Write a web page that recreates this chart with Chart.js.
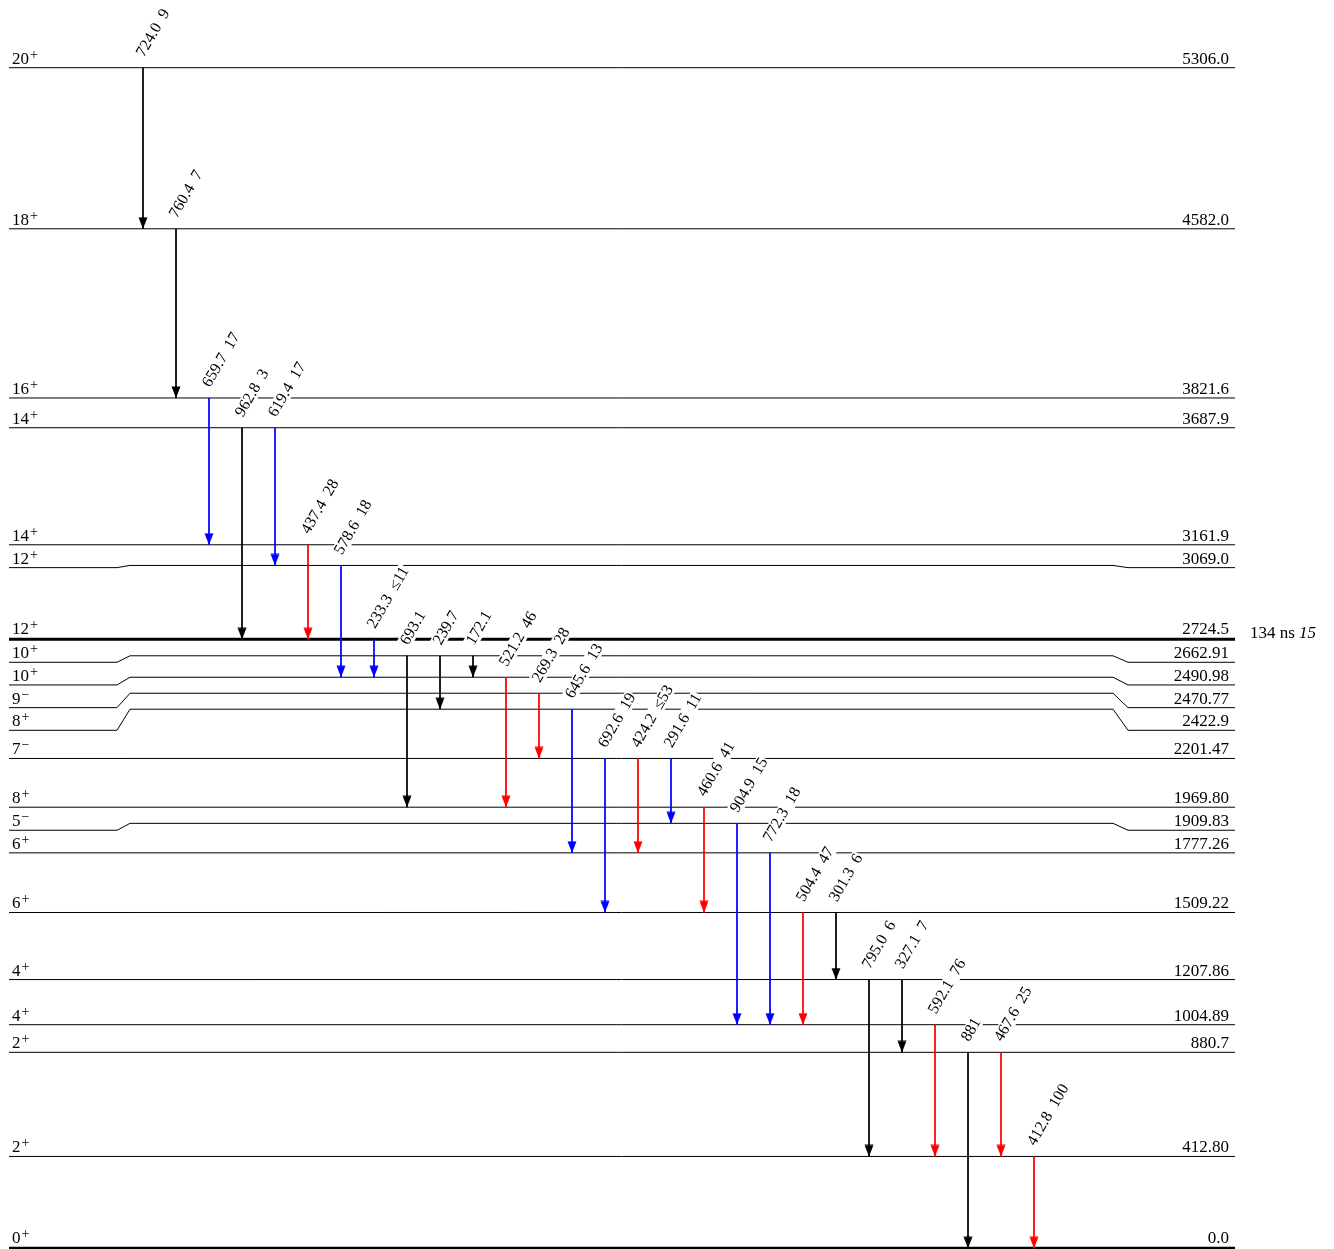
<!DOCTYPE html>
<html>
<head>
<meta charset="utf-8">
<script src="https://cdn.jsdelivr.net/npm/chart.js@4.4.0/dist/chart.umd.min.js"></script>
<style>
  html, body { margin: 0; padding: 0; background: #fff; overflow: hidden; }
  #scheme { display: block; }
</style>
</head>
<body>
<canvas id="scheme" width="1334" height="1249"></canvas>
<script>
// levels: energy (keV), printed energy, spin and parity
const levelEnergy = [5306.0, 4582.0, 3821.6, 3687.9, 3161.9, 3069.0, 2724.5, 2662.91, 2490.98, 2470.77, 2422.9,
    2201.47, 1969.80, 1909.83, 1777.26, 1509.22, 1207.86, 1004.89, 880.7, 412.80, 0.0];
const levelEnergyText = ['5306.0', '4582.0', '3821.6', '3687.9', '3161.9', '3069.0', '2724.5', '2662.91', '2490.98', '2470.77', '2422.9',
    '2201.47', '1969.80', '1909.83', '1777.26', '1509.22', '1207.86', '1004.89', '880.7', '412.80', '0.0'];
const levelSpin = ['20', '18', '16', '14', '14', '12', '12', '10', '10', '9', '8', '7', '8', '5', '6', '6', '4', '4', '2', '2', '0'];
const levelParity = ['+', '+', '+', '+', '+', '+', '+', '+', '+', '\u2212', '+', '\u2212', '+', '\u2212', '+', '+', '+', '+', '+', '+', '+'];
const isomerLevel = 2724.5;
const isomerHalfLife = '134 ns';
const isomerError = '15';

// transitions, one column each, left to right
const gammaEnergy = ['724.0', '760.4', '659.7', '962.8', '619.4', '437.4', '578.6', '233.3', '693.1', '239.7', '172.1', '521.2', '269.3', '645.6',
    '692.6', '424.2', '291.6', '460.6', '904.9', '772.3', '504.4', '301.3', '795.0', '327.1', '592.1', '881', '467.6', '412.8'];
const gammaIntensity = ['9', '7', '17', '3', '17', '28', '18', '\u226411', '', '', '', '46', '28', '13',
    '19', '\u226453', '11', '41', '15', '18', '47', '6', '6', '7', '76', '', '25', '100'];
const gammaFrom = [5306.0, 4582.0, 3821.6, 3687.9, 3687.9, 3161.9, 3069.0, 2724.5, 2662.91, 2662.91, 2662.91, 2490.98, 2470.77, 2422.9,
    2201.47, 2201.47, 2201.47, 1969.80, 1909.83, 1777.26, 1509.22, 1509.22, 1207.86, 1207.86, 1004.89, 880.7, 880.7, 412.80];
const gammaTo = [4582.0, 3821.6, 3161.9, 2724.5, 3069.0, 2724.5, 2490.98, 2490.98, 1969.80, 2422.9, 2490.98, 1969.80, 2201.47, 1777.26,
    1509.22, 1777.26, 1909.83, 1509.22, 1004.89, 1004.89, 1004.89, 1207.86, 412.80, 880.7, 412.80, 0.0, 412.80, 0.0];
const gammaGroup = ['k', 'k', 'b', 'k', 'b', 'r', 'b', 'b', 'k', 'k', 'k', 'r', 'r', 'b',
    'b', 'r', 'b', 'r', 'b', 'b', 'r', 'k', 'k', 'k', 'r', 'k', 'r', 'r'];

// ---- layout / style ----
const W = 1334, H = 1249;
const PAD = { top: 67.7, bottom: 0.7, left: 9, right: 99 };
const Y_MIN = 0, Y_MAX = 5306;
const PX_PER_KEV = (H - PAD.top - PAD.bottom) / (Y_MAX - Y_MIN);
const COL = 33;                       // px between transition columns
const X_MIN = -(143 - PAD.left) / COL;
const X_MAX = X_MIN + (W - PAD.left - PAD.right) / COL;
const KINK = [117, 130, 1113, 1128];  // px where the level ends bend away
// nudges of drawn level lines in px (+ is down)
const midShift = { 2724.5: -2.8, 2490.98: -16.8, 2470.77: -5.3, 1969.80: -2.8 };
const endShift = { 3069.0: 2.2, 2724.5: -2.8, 2662.91: 6.5, 2490.98: -9.1, 2470.77: 9.1, 2422.9: 21.1, 1969.80: -2.8, 1909.83: 6.9 };
const THICK = [2724.5, 0.0];
const COLOURS = { k: '#000000', b: '#0000ff', r: '#ff0000' };
const FONT = '"Liberation Serif", "Times New Roman", serif';

const xv = px => X_MIN + (px - PAD.left) / COL;
const yMid = E => E - (midShift[E] || 0) / PX_PER_KEV;
const yEnd = E => E - (endShift[E] || 0) / PX_PER_KEV;

function arrowHead(colour) {
    const c = document.createElement('canvas');
    c.width = 10;
    c.height = 24;
    const g = c.getContext('2d');
    g.fillStyle = colour;
    g.beginPath();
    g.moveTo(0.5, 0.5);
    g.lineTo(9.5, 0.5);
    g.lineTo(5, 12);
    g.closePath();
    g.fill();
    return c;
}
const heads = { k: arrowHead(COLOURS.k), b: arrowHead(COLOURS.b), r: arrowHead(COLOURS.r) };

// transitions first so they sit on top of the level lines
const datasets = [];
gammaEnergy.forEach((eg, i) => {
    datasets.push({
        data: [{ x: i, y: yMid(gammaFrom[i]) }, { x: i, y: yMid(gammaTo[i]) }],
        showLine: true,
        borderColor: COLOURS[gammaGroup[i]],
        borderWidth: 1,
        pointRadius: c => c.dataIndex === 1 ? 5 : 0,
        pointStyle: heads[gammaGroup[i]],
        clip: false
    });
});
levelEnergy.forEach(E => {
    const a = yEnd(E), m = yMid(E);
    datasets.push({
        data: [
            { x: X_MIN, y: a }, { x: xv(KINK[0]), y: a }, { x: xv(KINK[1]), y: m },
            { x: xv(KINK[2]), y: m }, { x: xv(KINK[3]), y: a }, { x: X_MAX, y: a }
        ],
        showLine: true,
        borderColor: '#000',
        borderWidth: THICK.includes(E) ? 3 : 1,
        pointRadius: 0,
        clip: false
    });
});

function drawSpin(ctx, x, y, spin, parity) {
    ctx.textAlign = 'left';
    ctx.font = '17px ' + FONT;
    ctx.fillText(spin, x, y);
    const w = ctx.measureText(spin).width;
    ctx.font = '14px ' + FONT;
    ctx.fillText(parity, x + w + 1, y - 5);
}

const schemeText = {
    id: 'schemeText',
    afterDatasetsDraw(chart) {
        const { ctx, chartArea } = chart;
        const x = chart.scales.x, y = chart.scales.y;
        ctx.save();
        ctx.fillStyle = '#000';
        ctx.textBaseline = 'alphabetic';

        // level labels
        levelEnergy.forEach((E, k) => {
            const ye = y.getPixelForValue(yEnd(E)) - (THICK.includes(E) ? 5 : 4);
            drawSpin(ctx, chartArea.left + 3, ye, levelSpin[k], levelParity[k]);
            ctx.font = '17px ' + FONT;
            ctx.textAlign = 'right';
            ctx.fillText(levelEnergyText[k], chartArea.right - 6, ye);
        });

        // isomer half-life
        const yi = y.getPixelForValue(yEnd(isomerLevel)) - 1;
        ctx.textAlign = 'left';
        ctx.font = '17px ' + FONT;
        const hl = isomerHalfLife + ' ';
        ctx.fillText(hl, chartArea.right + 15, yi);
        const hw = ctx.measureText(hl).width;
        ctx.font = 'italic 17px ' + FONT;
        ctx.fillText(isomerError, chartArea.right + 15 + hw, yi);

        // gamma labels, rotated, on a white patch
        ctx.font = '16px ' + FONT;
        gammaEnergy.forEach((eg, i) => {
            const text = gammaIntensity[i] ? eg + '  ' + gammaIntensity[i] : eg;
            const px = x.getPixelForValue(i);
            const py = y.getPixelForValue(yMid(gammaFrom[i]));
            ctx.save();
            ctx.translate(px + 1, py - 10);
            ctx.rotate(-Math.PI / 3);
            const w = ctx.measureText(text).width;
            ctx.fillStyle = '#fff';
            ctx.fillRect(-1, -12, w + 2, 15);
            ctx.fillStyle = '#000';
            ctx.textAlign = 'left';
            ctx.fillText(text, 0, 0);
            ctx.restore();
        });
        ctx.restore();
    }
};

new Chart(document.getElementById('scheme'), {
    type: 'scatter',
    data: { datasets: datasets },
    options: {
        responsive: false,
        devicePixelRatio: 1,
        animation: false,
        events: [],
        layout: { padding: PAD, autoPadding: false },
        plugins: { legend: { display: false }, tooltip: { enabled: false } },
        scales: {
            x: { type: 'linear', min: X_MIN, max: X_MAX, display: false },
            y: { type: 'linear', min: Y_MIN, max: Y_MAX, display: false }
        }
    },
    plugins: [schemeText]
});
</script>
</body>
</html>
